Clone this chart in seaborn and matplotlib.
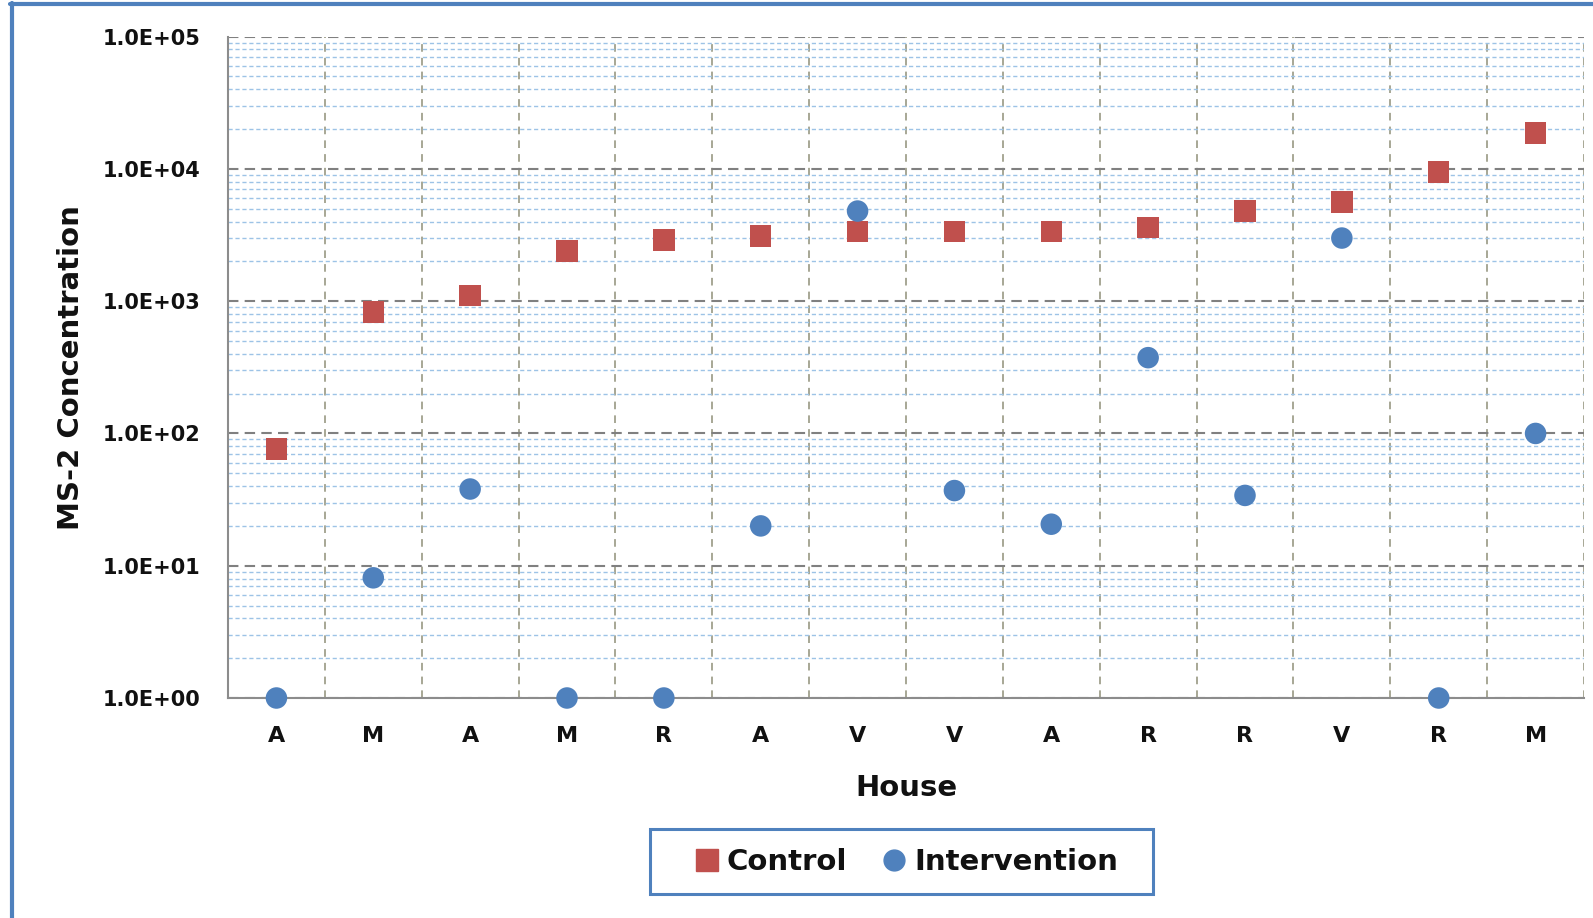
import numpy as np
import pandas as pd
import matplotlib
matplotlib.use('Agg')
import matplotlib.pyplot as plt
import seaborn as sns
from matplotlib.ticker import FixedLocator, LogLocator, NullFormatter, FuncFormatter
from matplotlib.lines import Line2D
from matplotlib.patches import Rectangle

houses = ['A', 'M', 'A', 'M', 'R', 'A', 'V', 'V', 'A', 'R', 'R', 'V', 'R', 'M']
control = [76, 830, 1100, 2400, 2900, 3100, 3350, 3350, 3350, 3600, 4800, 5600, 9500, 18600]
intervention = [1, 8.1, 38, 1, 1, 20, 4800, 37, 20.6, 374, 34, 3000, 1, 100]
groups = ['Control', 'Intervention']

sns.set_theme(style='white')
plt.rcParams['font.family'] = ['DejaVu Sans']

RED = '#C0504D'
BLUE = '#4F81BD'
TXT = '#111111'

W, H = 1593, 918
fig = plt.figure(figsize=(W / 100, H / 100), dpi=100)
ax_l, ax_r, ax_t, ax_b = 228, 1584, 36.6, 698
ax = fig.add_axes([ax_l / W, 1 - ax_b / H, (ax_r - ax_l) / W, (ax_b - ax_t) / H])

pos = np.arange(len(houses))
df = pd.DataFrame({
    'pos': np.concatenate([pos, pos]),
    'value': control + intervention,
    'group': [groups[0]] * len(control) + [groups[1]] * len(intervention),
})

sns.scatterplot(data=df, x='pos', y='value', hue='group', style='group',
                markers={'Control': 's', 'Intervention': 'o'},
                palette={'Control': RED, 'Intervention': BLUE},
                s=240, linewidth=0, ax=ax, clip_on=False, zorder=5, legend=False)

ax.set_yscale('log')
ax.set_ylim(1, 1e5)
ax.set_xlim(-0.5, len(houses) - 0.5)

ax.set_xticks(pos)
ax.set_xticklabels(houses)
ax.xaxis.set_minor_locator(FixedLocator(np.arange(-0.5, len(houses), 1.0)))
ax.yaxis.set_major_locator(FixedLocator([1, 10, 100, 1e3, 1e4, 1e5]))
ax.yaxis.set_major_formatter(FuncFormatter(lambda v, p: f'{v:.1E}'))
ax.yaxis.set_minor_locator(LogLocator(base=10, subs=range(2, 10), numticks=20))
ax.yaxis.set_minor_formatter(NullFormatter())

ax.grid(False)
ax.grid(which='minor', axis='y', color='#9DC3E6', linestyle=(0, (3, 2)), linewidth=1.0, zorder=0)
ax.grid(which='major', axis='y', color='#808080', linestyle=(0, (5, 3)), linewidth=1.5, zorder=1)
ax.grid(which='minor', axis='x', color='#8F8F78', linestyle=(0, (5, 4)), linewidth=1.1, zorder=1)
ax.set_axisbelow(True)

for s in ['top', 'right']:
    ax.spines[s].set_visible(False)
for s in ['left', 'bottom']:
    ax.spines[s].set_color('#8C8C8C')
    ax.spines[s].set_linewidth(1.5)

ax.tick_params(axis='x', which='major', length=0, pad=20, labelsize=16)
ax.tick_params(axis='x', which='minor', length=8, width=1.2, color='#8C8C8C', direction='out')
ax.tick_params(axis='y', which='major', length=8, width=1.2, color='#8C8C8C', direction='out', pad=12, labelsize=15)
ax.tick_params(axis='y', which='minor', length=0)
for lab in ax.get_xticklabels() + ax.get_yticklabels():
    lab.set_fontweight('bold')
    lab.set_color(TXT)

ax.set_xlabel('House', fontsize=21, fontweight='bold', color=TXT)
ax.set_ylabel('MS-2 Concentration', fontsize=21, fontweight='bold', color=TXT)
ax.xaxis.label.set_va('center')
ax.xaxis.set_label_coords(0.5, (ax_b - 788) / (ax_b - ax_t))
ax.yaxis.label.set_va('center')
ax.yaxis.set_label_coords((71 - ax_l) / (ax_r - ax_l), 0.5)

handles = [
    Line2D([], [], marker='s', color=RED, linestyle='none', markersize=16.5),
    Line2D([], [], marker='o', color=BLUE, linestyle='none', markersize=15),
]
leg = fig.legend(handles, groups, loc='center', bbox_to_anchor=(906 / W, 1 - 862 / H),
                 ncol=2, frameon=False, fontsize=21,
                 handletextpad=0.25, columnspacing=1.2, borderpad=0.3, handlelength=0.85)
for t in leg.get_texts():
    t.set_fontweight('bold')
    t.set_color(TXT)

fig.add_artist(Rectangle((650 / W, 1 - 894 / H), (1153 - 650) / W, (894 - 829) / H,
                         transform=fig.transFigure, facecolor='none', edgecolor=BLUE, linewidth=2.2))

fig.add_artist(Line2D([11.5 / W, 11.5 / W], [0, 1 - 3 / H], transform=fig.transFigure, color=BLUE, linewidth=3))
fig.add_artist(Line2D([10 / W, 1], [1 - 4 / H, 1 - 4 / H], transform=fig.transFigure, color=BLUE, linewidth=3))

fig.savefig('out.png', dpi=100)
